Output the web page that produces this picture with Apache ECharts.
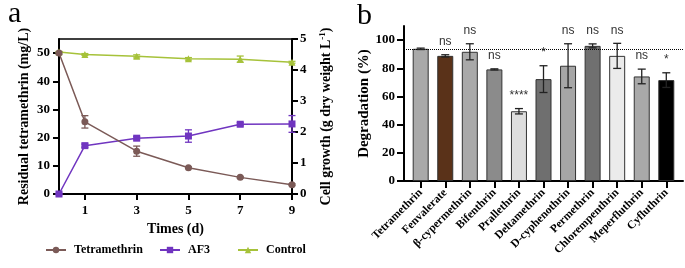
<!DOCTYPE html>
<html>
<head>
<meta charset="utf-8">
<script src="https://cdn.jsdelivr.net/npm/echarts@6/dist/echarts.min.js"></script>
<style>
  html, body { margin: 0; padding: 0; background: #fff; }
  #main { width: 685px; height: 268px; }
</style>
</head>
<body>
<div id="main"></div>
<script>
// panel a: residual tetramethrin and cell growth over time
var days = [0, 1, 3, 5, 7, 9];
var dayTicks = [1, 3, 5, 7, 9];
var tetraResidual = [50, 25.6, 15.2, 9.3, 5.9, 3.3];
var tetraSd = [0.4, 2.2, 1.8, 0.3, 0.3, 0.3];
var af3Growth = [0, 1.56, 1.8, 1.87, 2.25, 2.26];
var af3Sd = [0.02, 0.05, 0.05, 0.2, 0.05, 0.27];
var controlGrowth = [4.58, 4.5, 4.44, 4.36, 4.35, 4.25];
var controlSd = [0.02, 0.03, 0.05, 0.04, 0.1, 0.03];
var residualTicks = [0, 10, 20, 30, 40, 50];

// panel b: degradation of pyrethroids
var pyrethroids = ['Tetramethrin', 'Fenvalerate', 'β-cypermethrin', 'Bifenthrin', 'Prallethrin',
  'Deltamethrin', 'D-cyphenothrin', 'Permethrin', 'Chlorempenthrin', 'Meperfluthrin', 'Cyfluthrin'];
var degradation = [93.8, 88.8, 91.7, 79.2, 49.5, 72.3, 81.8, 95.9, 88.8, 74.2, 71.6];
var degradationSd = [0.5, 0.8, 5.7, 0.4, 1.9, 9.5, 15.6, 1.4, 8.9, 5.2, 5.2];
var significance = ['', 'ns', 'ns', 'ns', '****', '*', 'ns', 'ns', 'ns', 'ns', '*'];
var barColors = ['#a9a9a9', '#5a3219', '#a9a9a9', '#8b8b8b', '#dedede', '#6f6f6f',
  '#a6a6a6', '#707070', '#ebebeb', '#a9a9a9', '#000000'];
var referenceLevel = 93.6;
var degradationTicks = [0, 20, 40, 60, 80, 100];

var serif = 'Liberation Serif';
var tetraColor = '#7b5a57';
var af3Color = '#7035c0';
var controlColor = '#a6c23a';

function errorBars(color, capHalf) {
  return function (params, api) {
    var x = api.value(0);
    var lo = api.coord([x, api.value(1)]);
    var hi = api.coord([x, api.value(2)]);
    var style = { stroke: color, lineWidth: 1.3 };
    return {
      type: 'group',
      children: [
        { type: 'line', shape: { x1: lo[0], y1: lo[1], x2: hi[0], y2: hi[1] }, style: style },
        { type: 'line', shape: { x1: hi[0] - capHalf, y1: hi[1], x2: hi[0] + capHalf, y2: hi[1] }, style: style },
        { type: 'line', shape: { x1: lo[0] - capHalf, y1: lo[1], x2: lo[0] + capHalf, y2: lo[1] }, style: style }
      ]
    };
  };
}

function spread(xs, means, sds) {
  return xs.map(function (x, i) { return [x, means[i] - sds[i], means[i] + sds[i]]; });
}
function pairs(xs, ys) {
  return xs.map(function (x, i) { return [x, ys[i]]; });
}

var idx = pyrethroids.map(function (p, i) { return i; });

var axisLine = { onZero: false, lineStyle: { color: '#000', width: 2 } };
var tickStyle = { lineStyle: { color: '#000', width: 2 } };
var nameFont = { color: '#000', fontFamily: serif, fontWeight: 'bold', fontSize: 14 };
var legendFont = { color: '#000', fontFamily: serif, fontWeight: 'bold', fontSize: 12, padding: [0, 0, 0, 3] };

var myChart = echarts.init(document.getElementById('main'));
var option = {
  animation: false,
  title: [
    { text: 'a', left: 3, top: -6, textStyle: { fontFamily: serif, fontWeight: 'normal', fontSize: 30, color: '#000' } },
    { text: 'b', left: 352, top: -4, textStyle: { fontFamily: serif, fontWeight: 'normal', fontSize: 30, color: '#000' } }
  ],
  legend: [
    { data: ['Tetramethrin'], left: 40, top: 239, itemWidth: 20, itemHeight: 8, textStyle: legendFont },
    { data: ['AF3'], left: 154, top: 239, itemWidth: 20, itemHeight: 8, textStyle: legendFont },
    { data: ['Control'], left: 232, top: 239, itemWidth: 20, itemHeight: 8, textStyle: legendFont }
  ],
  grid: [
    { left: 59, top: 39, width: 233, height: 155, outerBoundsMode: 'none' },
    { left: 404, top: 26, width: 279, height: 155, outerBoundsMode: 'none' }
  ],
  xAxis: [
    {
      gridIndex: 0, type: 'value', min: 0, max: 9,
      axisLine: axisLine,
      axisTick: { customValues: dayTicks, length: 6, lineStyle: tickStyle.lineStyle },
      axisLabel: { customValues: dayTicks, margin: 10, fontFamily: serif, fontWeight: 'bold', fontSize: 13, color: '#000' },
      splitLine: { show: false },
      name: 'Times (d)', nameLocation: 'middle', nameGap: 25, nameTextStyle: nameFont
    },
    {
      gridIndex: 0, type: 'value', min: 0, max: 9, position: 'top',
      axisLine: { onZero: false, lineStyle: { color: '#000', width: 1.5 } },
      axisTick: { show: false }, axisLabel: { show: false }, splitLine: { show: false }
    },
    {
      gridIndex: 1, type: 'value', min: -0.68, max: 10.68,
      axisLine: axisLine,
      axisTick: { customValues: idx, length: 7, lineStyle: tickStyle.lineStyle },
      axisLabel: {
        customValues: idx, rotate: 45, margin: 10, interval: 0,
        fontFamily: serif, fontWeight: 'bold', fontSize: 11.5, color: '#000',
        formatter: function (v) { return pyrethroids[Math.round(v)]; }
      },
      splitLine: { show: false }
    }
  ],
  yAxis: [
    {
      gridIndex: 0, type: 'value', min: 0, max: 55,
      axisLine: axisLine,
      axisTick: { show: true, customValues: residualTicks, length: 6, lineStyle: tickStyle.lineStyle },
      axisLabel: { customValues: residualTicks, margin: 9, fontFamily: serif, fontWeight: 'bold', fontSize: 13, color: '#000' },
      splitLine: { show: false },
      name: 'Residual tetramethrin (mg/L)', nameLocation: 'middle', nameRotate: 90, nameGap: 28, nameTextStyle: nameFont
    },
    {
      gridIndex: 0, type: 'value', min: 0, max: 5, interval: 1, position: 'right',
      axisLine: axisLine,
      axisTick: { show: true, length: 6, lineStyle: tickStyle.lineStyle },
      axisLabel: { margin: 8, fontFamily: serif, fontWeight: 'bold', fontSize: 13, color: '#000' },
      splitLine: { show: false },
      name: 'Cell growth (g dry weight L{sup|-1})', nameLocation: 'middle', nameRotate: 90, nameGap: 26,
      nameTextStyle: {
        color: '#000', fontFamily: serif, fontWeight: 'bold', fontSize: 14,
        rich: { sup: { fontFamily: serif, fontWeight: 'bold', fontSize: 9, verticalAlign: 'top', padding: [0, 0, 8, 0] } }
      }
    },
    {
      gridIndex: 1, type: 'value', min: 0, max: 110,
      axisLine: axisLine,
      axisTick: { show: true, customValues: degradationTicks, length: 7, lineStyle: tickStyle.lineStyle },
      axisLabel: { customValues: degradationTicks, margin: 9, fontFamily: serif, fontWeight: 'bold', fontSize: 13, color: '#000' },
      splitLine: { show: false },
      name: 'Degradation (%)', nameLocation: 'middle', nameRotate: 90, nameGap: 32,
      nameTextStyle: { color: '#000', fontFamily: serif, fontWeight: 'bold', fontSize: 15 }
    }
  ],
  series: [
    {
      type: 'custom', name: 'tetra-sd', xAxisIndex: 0, yAxisIndex: 0,
      renderItem: errorBars(tetraColor, 3.5), encode: { x: 0, y: [1, 2] },
      data: spread(days, tetraResidual, tetraSd), z: 1
    },
    {
      type: 'custom', name: 'af3-sd', xAxisIndex: 0, yAxisIndex: 1,
      renderItem: errorBars(af3Color, 3.5), encode: { x: 0, y: [1, 2] },
      data: spread(days, af3Growth, af3Sd), z: 1
    },
    {
      type: 'custom', name: 'control-sd', xAxisIndex: 0, yAxisIndex: 1,
      renderItem: errorBars(controlColor, 3.5), encode: { x: 0, y: [1, 2] },
      data: spread(days, controlGrowth, controlSd), z: 1
    },
    {
      name: 'Control', type: 'line', xAxisIndex: 0, yAxisIndex: 1,
      data: pairs(days, controlGrowth),
      symbol: 'triangle', symbolSize: 7,
      itemStyle: { color: controlColor }, lineStyle: { color: controlColor, width: 1.5 }, z: 2
    },
    {
      name: 'AF3', type: 'line', xAxisIndex: 0, yAxisIndex: 1,
      data: pairs(days, af3Growth),
      symbol: 'rect', symbolSize: 7,
      itemStyle: { color: af3Color }, lineStyle: { color: af3Color, width: 1.5 }, z: 3
    },
    {
      name: 'Tetramethrin', type: 'line', xAxisIndex: 0, yAxisIndex: 0,
      data: pairs(days, tetraResidual),
      symbol: 'circle', symbolSize: 7,
      itemStyle: { color: tetraColor }, lineStyle: { color: tetraColor, width: 1.5 }, z: 4
    },
    {
      name: 'Degradation', type: 'bar', xAxisIndex: 2, yAxisIndex: 2,
      barWidth: 16,
      data: idx.map(function (i) {
        return { value: [i, degradation[i]], itemStyle: { color: barColors[i], borderColor: '#333', borderWidth: 1 } };
      }),
      markLine: {
        silent: true, symbol: 'none', label: { show: false },
        lineStyle: { color: '#000', type: 'dotted', width: 1 },
        data: [{ yAxis: referenceLevel }]
      }
    },
    {
      type: 'custom', name: 'degradation-sd', xAxisIndex: 2, yAxisIndex: 2,
      renderItem: errorBars('#222', 4), encode: { x: 0, y: [1, 2] },
      data: spread(idx, degradation, degradationSd), z: 5
    },
    {
      type: 'custom', name: 'significance', xAxisIndex: 2, yAxisIndex: 2,
      encode: { x: 0, y: 1 },
      data: idx.map(function (i) { return [i, degradation[i] + degradationSd[i]]; }),
      renderItem: function (params, api) {
        var p = api.coord([api.value(0), api.value(1)]);
        return {
          type: 'text',
          style: {
            text: significance[params.dataIndex], x: p[0], y: p[1] - 7,
            align: 'center', verticalAlign: 'bottom',
            font: '12px "Liberation Sans"', fill: '#333'
          }
        };
      },
      z: 6
    }
  ]
};
myChart.setOption(option);
</script>
</body>
</html>
